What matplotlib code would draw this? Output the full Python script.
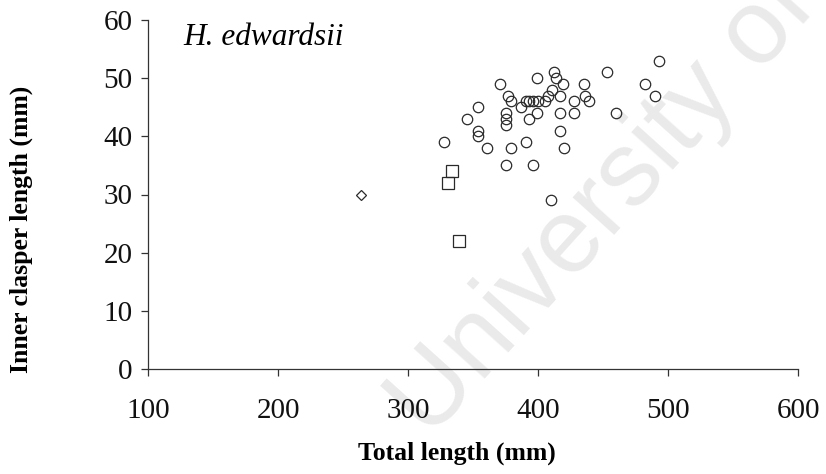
import matplotlib
matplotlib.use("Agg")
import matplotlib.pyplot as plt

# Circles (main group)
circ_x = [328, 345, 354, 354, 354, 361, 371, 375, 375, 375, 375, 377, 379, 379,
          387, 391, 391, 393, 393, 396, 396, 399, 400, 399, 405, 408, 410, 411,
          412, 414, 417, 417, 417, 419, 420, 428, 428, 435, 436, 439, 453, 460,
          482, 490, 493]
circ_y = [39, 43, 45, 41, 40, 38, 49, 35, 42, 43, 44, 47, 46, 38,
          45, 46, 39, 46, 43, 46, 35, 44, 46, 50, 46, 47, 29, 48,
          51, 50, 47, 44, 41, 49, 38, 46, 44, 49, 47, 46, 51, 44,
          49, 47, 53]
# Squares
sq_x = [331, 334, 339]
sq_y = [32, 34, 22]
# Diamond
dia_x = [264]
dia_y = [30]

xticks = [100, 200, 300, 400, 500, 600]
yticks = [0, 10, 20, 30, 40, 50, 60]

serif = ['Liberation Serif', 'DejaVu Serif']

fig = plt.figure(figsize=(8.26, 4.74), dpi=100)
ax = fig.add_axes([148/826, 1-369/474, (798-148)/826, (369-20)/474])

# watermark (faint scan stamp)
fig.text(430/826, 1-440/474, 'University of Cape Town', fontsize=76, color='#eaeaea',
         family='Liberation Sans', rotation=48, rotation_mode='anchor',
         ha='left', va='baseline', zorder=0)
ax.set_zorder(1)
ax.patch.set_alpha(0)

ec = '#2a2a2a'
ax.plot(circ_x, circ_y, 'o', ms=7.5, mfc='none', mec=ec, mew=0.9, clip_on=False)
ax.plot(sq_x, sq_y, 's', ms=8.8, mfc='none', mec=ec, mew=0.9, clip_on=False)
ax.plot(dia_x, dia_y, 'D', ms=5.5, mfc='none', mec=ec, mew=0.9, clip_on=False)

ax.set_xlim(100, 600)
ax.set_ylim(0, 60)
ax.set_xticks(xticks)
ax.set_yticks(yticks)
for s in ['top', 'right']:
    ax.spines[s].set_visible(False)
for s in ['left', 'bottom']:
    ax.spines[s].set_color('#333333')
    ax.spines[s].set_linewidth(0.9)
ax.tick_params(axis='both', direction='out', length=5, width=0.9, color='#333333',
               labelsize=21)
ax.tick_params(axis='x', pad=16)
ax.tick_params(axis='y', pad=6)
for lab in ax.get_xticklabels() + ax.get_yticklabels():
    lab.set_family(serif)
    lab.set_color('#111111')

ax.set_xlabel('Total length (mm)', family=serif, fontsize=18.5, fontweight='bold')
ax.xaxis.set_label_coords((457-148)/650, -(442-369)/349)
ax.set_ylabel('Inner clasper length (mm)', family=serif, fontsize=18.5,
              fontweight='bold')
ax.yaxis.set_label_coords(-(148-33)/650, (369-229)/349)

ax.text(0.055, 0.99, 'H. edwardsii', transform=ax.transAxes, family=serif,
        style='italic', fontsize=22.5, va='top', ha='left')

fig.savefig('out.png', dpi=100)
